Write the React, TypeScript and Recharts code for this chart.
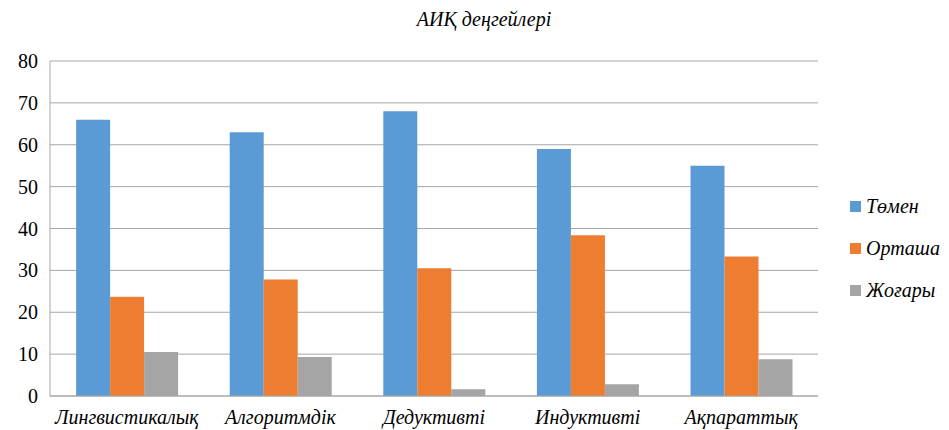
import React from 'react';
import { BarChart, Bar, XAxis, YAxis, CartesianGrid } from 'recharts';

const categories = ['Лингвистикалық', 'Алгоритмдік', 'Дедуктивті', 'Индуктивті', 'Ақпараттық'];
const tomen = [66, 63, 68, 59, 55];
const ortasha = [23.7, 27.8, 30.5, 38.4, 33.3];
const zhogary = [10.5, 9.3, 1.6, 2.8, 8.8];
const yTicks = [0, 10, 20, 30, 40, 50, 60, 70, 80];

const series = [
  { key: 'Төмен', values: tomen, color: '#5B9BD5' },
  { key: 'Орташа', values: ortasha, color: '#ED7D31' },
  { key: 'Жоғары', values: zhogary, color: '#A5A5A5' },
];

const data = categories.map((name, i) => {
  const row: { [k: string]: string | number } = { name };
  series.forEach(s => { row[s.key] = s.values[i]; });
  return row;
});

const FONT = 'Liberation Serif, DejaVu Serif, Times New Roman, serif';

export default function App() {
  return (
    <div style={{ position: 'absolute', left: 0, top: 0, width: 949, height: 430, background: '#fff', fontFamily: FONT }}>
      <div style={{ position: 'absolute', top: 8, left: 0, width: 968, textAlign: 'center', fontStyle: 'italic', fontSize: 20 }}>
        АИҚ деңгейлері
      </div>
      <BarChart
        width={949}
        height={430}
        data={data}
        margin={{ top: 61, right: 131, left: 0, bottom: 4 }}
        barCategoryGap="17%"
        barGap={0}
        style={{ fontFamily: FONT }}
      >
        <CartesianGrid vertical={false} stroke="#a6a6a6" />
        <XAxis
          dataKey="name"
          height={30}
          stroke="#a6a6a6"
          tickLine={false}
          interval={0}
          tick={{ fill: '#000', fontFamily: FONT, fontStyle: 'italic', fontSize: 20 }}
          tickMargin={8}
        />
        <YAxis
          width={50}
          domain={[0, 80]}
          ticks={yTicks}
          stroke="#a6a6a6"
          tickLine={false}
          tick={{ fill: '#000', fontFamily: FONT, fontSize: 20 }}
          tickMargin={6}
        />
        {series.map(s => (
          <Bar key={s.key} dataKey={s.key} fill={s.color} isAnimationActive={false} />
        ))}
      </BarChart>
      <div style={{ position: 'absolute', left: 850, top: 185, fontStyle: 'italic', fontSize: 20, color: '#000' }}>
        {series.map(s => (
          <div key={s.key} style={{ display: 'flex', alignItems: 'center', height: 42 }}>
            <span style={{ width: 11, height: 11, background: s.color, marginRight: 5, display: 'inline-block' }} />
            <span>{s.key}</span>
          </div>
        ))}
      </div>
    </div>
  );
}
